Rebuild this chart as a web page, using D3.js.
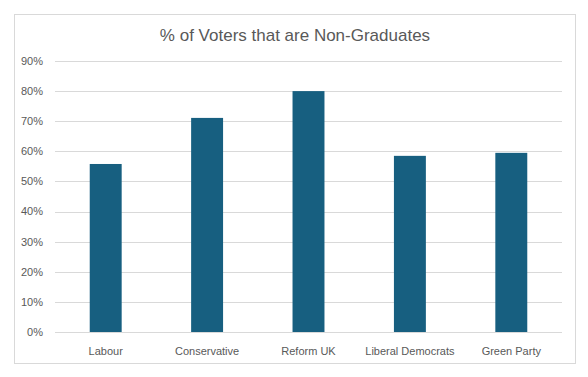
<!DOCTYPE html>
<html>
<head>
<meta charset="utf-8">
<script src="https://cdn.jsdelivr.net/npm/d3@7"></script>
<style>
  body { margin: 0; background: #fff; }
  text { font-family: "Liberation Sans", Arial, sans-serif; fill: #595959; }
</style>
</head>
<body>
<div id="chart"></div>
<script>
// data
const parties = ["Labour", "Conservative", "Reform UK", "Liberal Democrats", "Green Party"];
const nonGradShare = [0.558, 0.711, 0.80, 0.585, 0.595];
const yTicks = [0, 0.1, 0.2, 0.3, 0.4, 0.5, 0.6, 0.7, 0.8, 0.9];
const chartTitle = "% of Voters that are Non-Graduates";

const W = 588, H = 377;
const margin = { top: 61, right: 26, bottom: 45, left: 55 };
const innerW = W - margin.left - margin.right,
      innerH = H - margin.top - margin.bottom;

const svg = d3.select("#chart").append("svg")
    .attr("width", W)
    .attr("height", H);

// outer frame
svg.append("rect")
    .attr("x", 14.5).attr("y", 14.5)
    .attr("width", 561).attr("height", 349)
    .attr("fill", "#fff")
    .attr("stroke", "#d9d9d9");

svg.append("text")
    .attr("x", 295).attr("y", 41)
    .attr("text-anchor", "middle")
    .style("font-size", "17px")
    .text(chartTitle);

const g = svg.append("g")
    .attr("transform", `translate(${margin.left},${margin.top})`);

const x = d3.scaleBand()
    .domain(parties)
    .range([0, innerW])
    .paddingInner(0.685)
    .paddingOuter(0.3425);

const y = d3.scaleLinear()
    .domain([0, 0.9])
    .range([innerH, 0]);

// gridlines
g.selectAll(".grid")
    .data(yTicks)
    .enter().append("line")
    .attr("class", "grid")
    .attr("x1", 0).attr("x2", innerW)
    .attr("y1", d => Math.round(y(d)) + 0.5)
    .attr("y2", d => Math.round(y(d)) + 0.5)
    .attr("stroke", "#d9d9d9");

// y labels
g.selectAll(".ylab")
    .data(yTicks)
    .enter().append("text")
    .attr("class", "ylab")
    .attr("x", -12)
    .attr("y", d => y(d))
    .attr("dy", "0.35em")
    .attr("text-anchor", "end")
    .style("font-size", "11px")
    .text(d3.format(".0%"));

// bars
g.selectAll(".bar")
    .data(parties)
    .enter().append("rect")
    .attr("class", "bar")
    .attr("x", d => x(d))
    .attr("width", x.bandwidth())
    .attr("y", (d, i) => y(nonGradShare[i]))
    .attr("height", (d, i) => innerH - y(nonGradShare[i]))
    .attr("fill", "#175f80");

// x labels
g.selectAll(".xlab")
    .data(parties)
    .enter().append("text")
    .attr("class", "xlab")
    .attr("x", d => x(d) + x.bandwidth() / 2)
    .attr("y", innerH + 19)
    .attr("dy", "0.35em")
    .attr("text-anchor", "middle")
    .style("font-size", "11px")
    .text(d => d);
</script>
</body>
</html>
